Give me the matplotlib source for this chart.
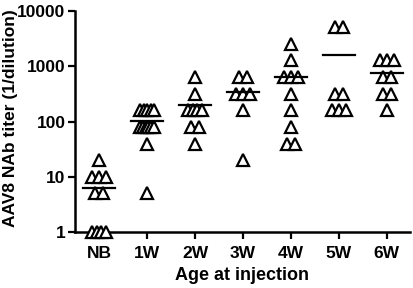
import matplotlib
matplotlib.use("Agg")
import matplotlib.pyplot as plt
import numpy as np

plt.rcParams['font.family'] = ['Liberation Sans', 'DejaVu Sans']
plt.rcParams['font.weight'] = 'bold'

categories = ["NB", "1W", "2W", "3W", "4W", "5W", "6W"]
nb = [20, 10, 10, 10, 5, 5, 1, 1, 1, 1]
w1 = [160, 160, 160, 160, 160, 80, 80, 80, 80, 80, 80, 40, 5]
w2 = [640, 320, 160, 160, 160, 160, 80, 80, 40]
w3 = [640, 640, 320, 320, 320, 160, 20]
w4 = [2560, 1280, 640, 640, 640, 320, 160, 80, 40, 40]
w5 = [5120, 5120, 320, 320, 160, 160, 160]
w6 = [1280, 1280, 1280, 640, 640, 320, 320, 160]
groups = [nb, w1, w2, w3, w4, w5, w6]
y_ticks = [1, 10, 100, 1000, 10000]

fig = plt.figure(figsize=(4.13, 2.88), dpi=100)
ax = fig.add_axes([0.182, 0.194, 0.810, 0.768])

px_per_unit = 48.0
for i, vals in enumerate(groups):
    vals = np.array(vals, dtype=float)
    xs = []
    ys = []
    for v in sorted(set(vals), reverse=True):
        n = int(np.sum(vals == v))
        if n > 1:
            sp = min(8.0, 14.0 / (n - 1)) / px_per_unit
        else:
            sp = 0.0
        offs = (np.arange(n) - (n - 1) / 2.0) * sp
        xs.extend(i + offs)
        ys.extend([v] * n)
    ax.plot(xs, ys, linestyle='none', marker='^', markersize=8,
            markerfacecolor='white', markeredgecolor='black',
            markeredgewidth=1.6, clip_on=False, zorder=3)
    m = vals.mean()
    ax.plot([i - 0.33, i + 0.33], [m, m], color='black', lw=1.6, zorder=4)

ax.set_yscale('log')
ax.set_ylim(1, 10000)
ax.set_xlim(-0.5, 6.48)
ax.set_yticks(y_ticks)
ax.set_yticklabels([str(t) for t in y_ticks])
ax.yaxis.set_minor_locator(matplotlib.ticker.NullLocator())
ax.set_xticks(range(len(categories)))
ax.set_xticklabels(categories)
for s in ['top', 'right']:
    ax.spines[s].set_visible(False)
for s in ['left', 'bottom']:
    ax.spines[s].set_linewidth(1.8)
ax.tick_params(axis='both', which='major', direction='out', length=5,
               width=1.6, labelsize=12.5)
ax.tick_params(axis='x', pad=5)
ax.tick_params(axis='y', pad=2)
for lab in ax.get_xticklabels() + ax.get_yticklabels():
    lab.set_fontweight('bold')
ax.set_xlabel("Age at injection", fontsize=13, fontweight='bold', labelpad=4)
fig.text(11 / 413, 1 - 118 / 288, "AAV8 NAb titer (1/dilution)", rotation=90,
         ha='center', va='center', fontsize=12.5, fontweight='bold')

fig.savefig("out.png", dpi=100)
